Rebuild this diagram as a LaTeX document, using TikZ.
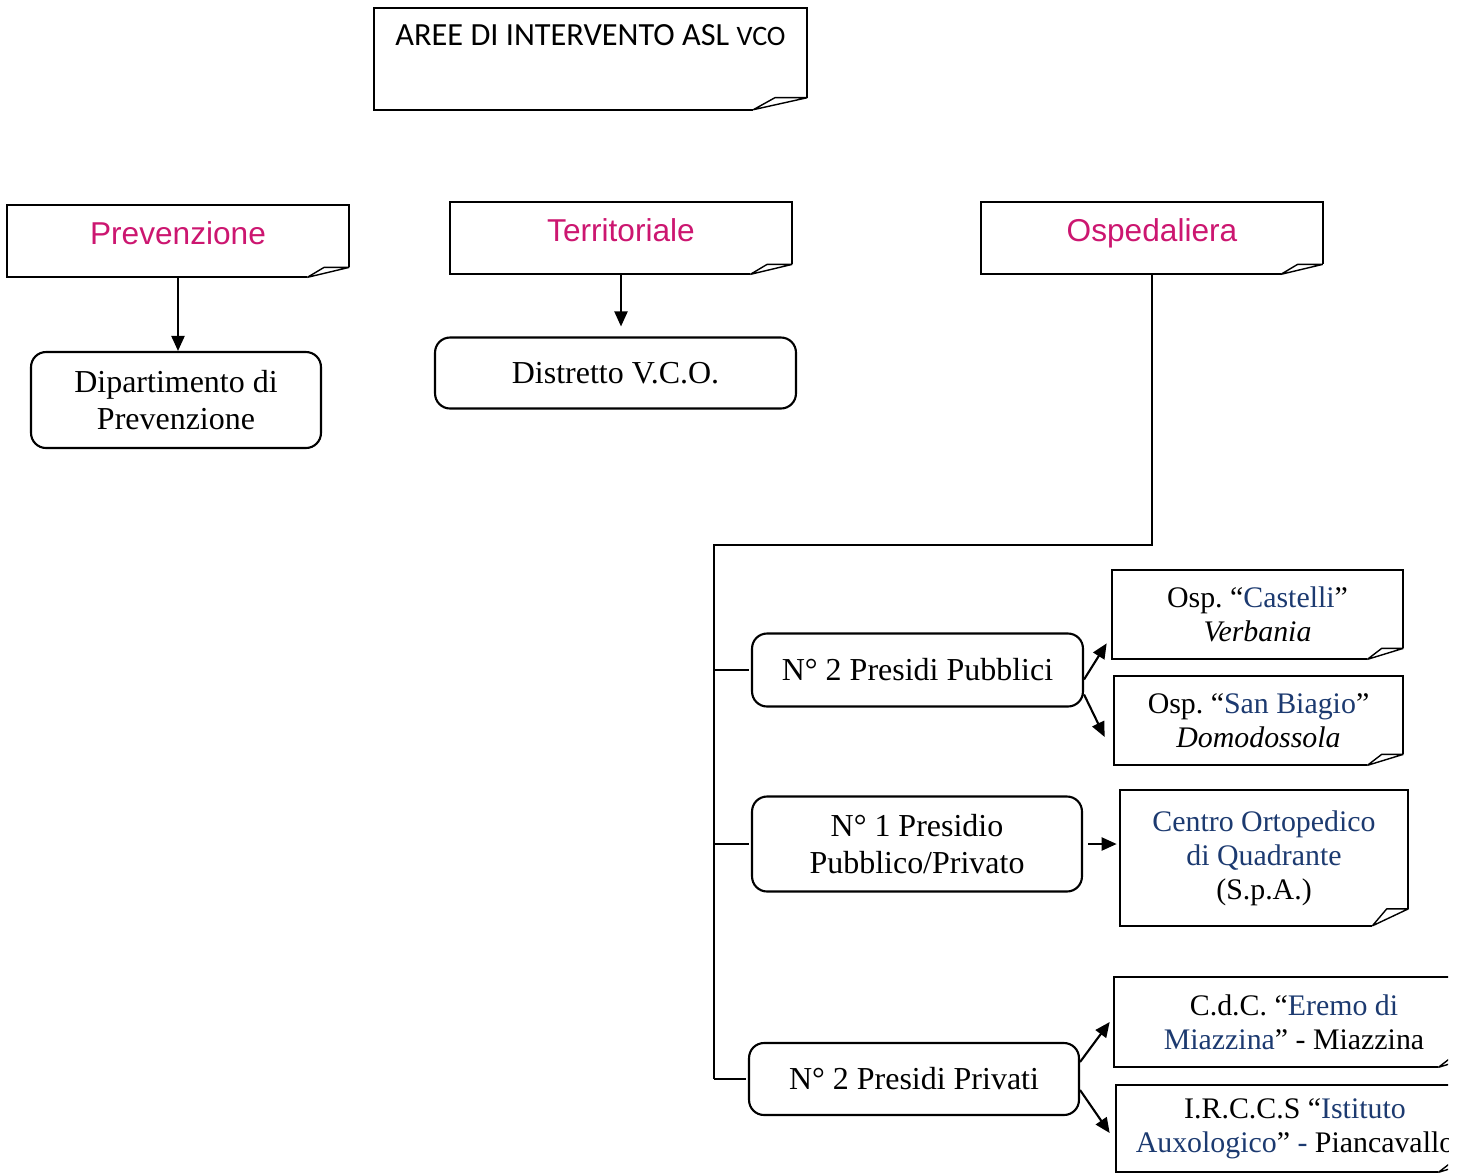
\documentclass[tikz,border=0pt]{standalone}
\usepackage{fontspec}
\setmainfont{Liberation Serif}
\setsansfont{Liberation Sans}
\newfontfamily\titlefont{Carlito}
\usetikzlibrary{arrows.meta}
\definecolor{areaPink}{RGB}{204,22,112}
\definecolor{nameNavy}{RGB}{28,58,112}
\begin{document}
\begin{tikzpicture}
[x=0.02cm,y=-0.02cm,
  lineDecorate/.style={-,line width=1.2pt},
  arrowDecorate/.style={-{Triangle[length=0.3cm,width=0.26cm]},line width=1.2pt},
  noteDecorate/.style={shape=rectangle,inner sep=0pt,align=center,
    font=\fontsize{17}{19.4}\selectfont},
  areaDecorate/.style={noteDecorate,font=\sffamily\fontsize{18}{21}\selectfont,
    text=areaPink,text depth=0.3cm},
  roundDecorate/.style={shape=rectangle,rounded corners=0.3cm,draw,line width=1.2pt,
    inner sep=0pt,align=center,font=\fontsize{18.2}{21.2}\selectfont}]
\useasboundingbox (0,0) rectangle (1464,1174);
\clip (0,0) rectangle (1448,1174);
%% title and the three areas
\node (title) at (590.5,8) [noteDecorate,anchor=north,minimum width=8.66cm,
  text height=0.45cm,inner ysep=0.29cm,text depth=0.99cm,
  font=\titlefont\fontsize{18.4}{21}\selectfont]
  {AREE DI INTERVENTO ASL {\fontsize{16}{18}\selectfont VCO}};
\node (prev) at (178,241) [areaDecorate,minimum width=6.84cm,minimum height=1.44cm] {Prevenzione};
\node (terr) at (621,238) [areaDecorate,minimum width=6.84cm,minimum height=1.44cm] {Territoriale};
\node (osp) at (1152,238) [areaDecorate,minimum width=6.82cm,minimum height=1.44cm] {Ospedaliera};
%% rounded boxes
\node (dip) at (176,400) [roundDecorate,minimum width=5.8cm,minimum height=1.92cm] {Dipartimento di\\Prevenzione};
\node (dist) at (615.5,373) [roundDecorate,minimum width=7.22cm,minimum height=1.42cm] {Distretto V.C.O.};
\node (pubb) at (917.5,670) [roundDecorate,minimum width=6.62cm,minimum height=1.46cm] {N° 2 Presidi Pubblici};
\node (mist) at (917,844) [roundDecorate,minimum width=6.6cm,minimum height=1.9cm] {N° 1 Presidio\\Pubblico/Privato};
\node (priv) at (914,1079) [roundDecorate,minimum width=6.6cm,minimum height=1.44cm] {N° 2 Presidi Privati};
%% hospitals
\node (cast) at (1257.5,614.5) [noteDecorate,minimum width=5.82cm,minimum height=1.78cm]
  {Osp.\ ``\textcolor{nameNavy}{Castelli}''\\\textit{Verbania}};
\node (biag) at (1258.5,720.5) [noteDecorate,minimum width=5.78cm,minimum height=1.78cm]
  {Osp.\ ``\textcolor{nameNavy}{San Biagio}''\\\textit{Domodossola}};
\node (cent) at (1264,858) [noteDecorate,minimum width=5.76cm,minimum height=2.7cm]
  {\textcolor{nameNavy}{Centro Ortopedico}\\\textcolor{nameNavy}{di Quadrante}\\(S.p.A.)};
\node (erem) at (1294,1022) [noteDecorate,minimum width=7.2cm,minimum height=1.8cm]
  {C.d.C.\ ``\textcolor{nameNavy}{Eremo di}\\\textcolor{nameNavy}{Miazzina}'' - Miazzina};
\node (auxo) at (1295,1128.5) [noteDecorate,minimum width=7.16cm,minimum height=1.74cm]
  {I.R.C.C.S ``\textcolor{nameNavy}{Istituto}\\\textcolor{nameNavy}{Auxologico}'' \textcolor{nameNavy}{-} Piancavallo};
%% outlines with folded corner
\foreach \n/\fx/\fy in {title/1.08/0.24, prev/0.84/0.2, terr/0.84/0.2, osp/0.84/0.2,
  cast/0.72/0.22, biag/0.72/0.22, cent/0.72/0.34, erem/0.72/0.22, auxo/0.72/0.22}
{
  \draw[lineDecorate] ([xshift=-\fx cm]\n.south east) -- (\n.south west) -- (\n.north west)
    -- (\n.north east) -- ([yshift=\fy cm]\n.south east);
  \draw[line width=0.8pt,line join=bevel] ([xshift=-\fx cm]\n.south east) -- ([yshift=\fy cm]\n.south east)
    -- ([xshift=-0.6*\fx cm,yshift=\fy cm]\n.south east) -- cycle;
}
%% connectors
\coordinate (busTop) at (714,545);
\draw[arrowDecorate] (prev.south) -- (prev.south |- dip.north);
\draw[arrowDecorate,shorten >=0.2cm] (terr.south) -- (terr.south |- dist.north);
\draw[lineDecorate] (osp.south) |- (busTop) -- (busTop |- priv.west);
\path
\foreach \target in {pubb, mist, priv}
{
  (busTop |- \target.west) edge[lineDecorate] ([xshift=-0.04cm]\target.west)
};
\draw[arrowDecorate] ([yshift=-0.19cm]pubb.east) -- ([xshift=-0.1cm,yshift=0.32cm]cast.south west);
\draw[arrowDecorate] ([yshift=-0.49cm]pubb.east) -- ([xshift=-0.18cm,yshift=-0.33cm]biag.west);
\draw[arrowDecorate] ([xshift=0.1cm]mist.east) -- ([xshift=-0.06cm]mist.east -| cent.west);
\draw[arrowDecorate] ([yshift=0.34cm]priv.east) -- ([xshift=-0.08cm]erem.west);
\draw[arrowDecorate] ([yshift=-0.22cm]priv.east) -- ([xshift=-0.12cm,yshift=-0.09cm]auxo.west);
\end{tikzpicture}
\end{document}
